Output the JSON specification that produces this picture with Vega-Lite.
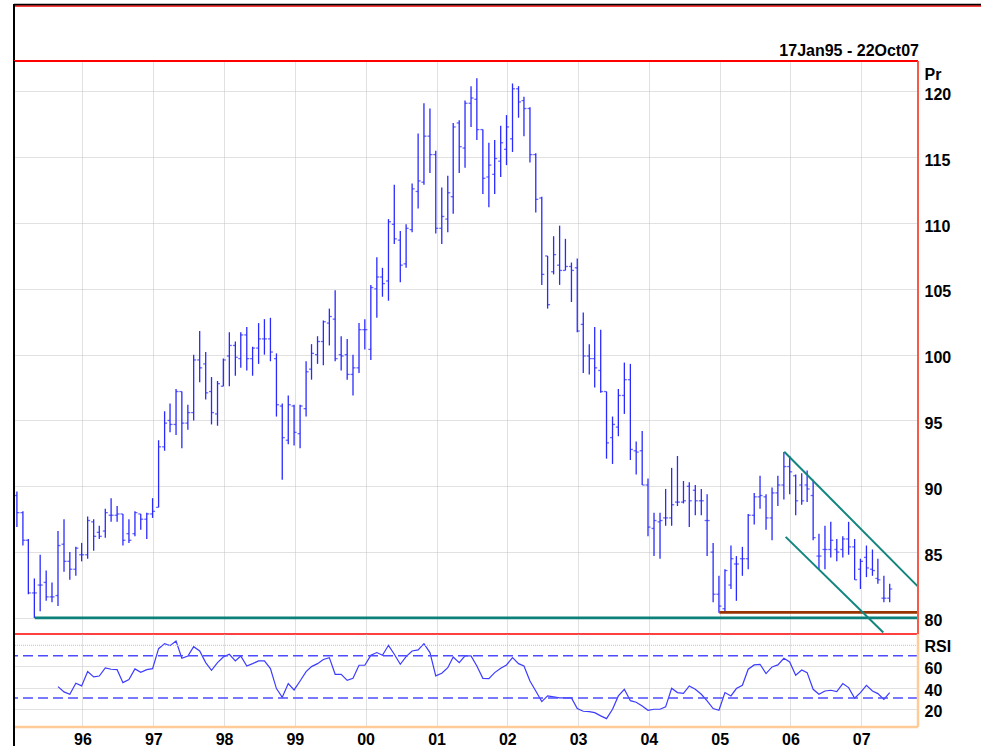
{
  "$schema": "https://vega.github.io/schema/vega-lite/v6.json",
  "background": "white",
  "padding": {"left": 12, "top": 3, "right": 0, "bottom": 0},
  "spacing": 0,
  "bounds": "flush",
  "config": {
    "view": {"stroke": null},
    "font": "Liberation Sans",
    "axis": {
      "labelFont": "Liberation Sans", "labelFontWeight": "bold", "labelFontSize": 16, "labelColor": "#000000",
      "titleFont": "Liberation Sans", "titleFontWeight": "bold", "titleFontSize": 16, "titleColor": "#000000",
      "gridColor": "#c2c2c2", "gridDash": [1, 1], "gridWidth": 1,
      "domain": false, "ticks": false, "tickSize": 0, "labelOverlap": false
    }
  },
  "datasets": {
    "lines": [
      {"k": "support", "d1": "1995-04-30", "p1": 80.0, "d2": "2007-10-21", "p2": 80.0},
      {"k": "base", "d1": "2004-12-30", "p1": 80.42, "d2": "2007-10-21", "p2": 80.42},
      {"k": "upper", "d1": "2005-11-30", "p1": 92.63, "d2": "2007-10-21", "p2": 82.38},
      {"k": "lower", "d1": "2005-12-07", "p1": 86.16, "d2": "2007-04-25", "p2": 78.89}
    ],
    "bars": [
      {"d":"1995-01-28","o":89.3,"h":89.6,"l":86.9,"c":88.0},
      {"d":"1995-02-28","o":88.0,"h":88.1,"l":85.5,"c":85.9},
      {"d":"1995-03-28","o":85.9,"h":86.0,"l":81.8,"c":81.9},
      {"d":"1995-04-28","o":81.9,"h":83.0,"l":80.0,"c":81.9},
      {"d":"1995-05-28","o":82.5,"h":84.8,"l":80.5,"c":82.5},
      {"d":"1995-06-28","o":82.7,"h":83.6,"l":81.3,"c":81.6},
      {"d":"1995-07-28","o":81.6,"h":82.7,"l":81.2,"c":81.6},
      {"d":"1995-08-28","o":81.7,"h":86.6,"l":80.9,"c":85.5,"r":40.8},
      {"d":"1995-09-28","o":85.6,"h":87.5,"l":83.5,"c":84.3,"r":35.8},
      {"d":"1995-10-28","o":84.3,"h":85.0,"l":82.9,"c":83.7,"r":33.6},
      {"d":"1995-11-28","o":83.7,"h":85.4,"l":83.2,"c":85.3,"r":44.0},
      {"d":"1995-12-28","o":84.8,"h":85.7,"l":84.3,"c":84.8,"r":41.5},
      {"d":"1996-01-28","o":84.8,"h":87.7,"l":84.5,"c":87.4,"r":55.1},
      {"d":"1996-02-28","o":87.3,"h":87.5,"l":85.1,"c":86.2,"r":50.0},
      {"d":"1996-03-28","o":86.5,"h":87.0,"l":86.0,"c":86.2,"r":50.9},
      {"d":"1996-04-28","o":86.6,"h":88.3,"l":86.1,"c":88.0,"r":58.5},
      {"d":"1996-05-28","o":87.8,"h":89.1,"l":87.3,"c":87.8,"r":57.3},
      {"d":"1996-06-28","o":87.8,"h":88.5,"l":87.3,"c":87.9,"r":56.9},
      {"d":"1996-07-28","o":87.9,"h":87.9,"l":85.5,"c":85.9,"r":44.6},
      {"d":"1996-08-28","o":86.4,"h":87.5,"l":85.7,"c":85.9,"r":47.5},
      {"d":"1996-09-28","o":86.4,"h":88.1,"l":86.2,"c":88.0,"r":57.6},
      {"d":"1996-10-28","o":87.9,"h":87.9,"l":86.7,"c":87.5,"r":54.4},
      {"d":"1996-11-28","o":87.5,"h":88.0,"l":86.0,"c":87.9,"r":56.9},
      {"d":"1996-12-28","o":87.9,"h":89.1,"l":87.6,"c":88.1,"r":57.9},
      {"d":"1997-01-28","o":88.4,"h":93.5,"l":88.4,"c":93.0,"r":76.8},
      {"d":"1997-02-28","o":93.0,"h":95.7,"l":92.7,"c":94.8,"r":81.6},
      {"d":"1997-03-28","o":95.0,"h":96.3,"l":94.1,"c":94.7,"r":79.7},
      {"d":"1997-04-28","o":94.7,"h":97.4,"l":93.9,"c":97.2,"r":84.1},
      {"d":"1997-05-28","o":97.2,"h":97.2,"l":92.9,"c":94.8,"r":67.7},
      {"d":"1997-06-28","o":94.8,"h":96.2,"l":94.3,"c":95.6,"r":69.9},
      {"d":"1997-07-28","o":95.6,"h":100.0,"l":95.0,"c":99.6,"r":78.7},
      {"d":"1997-08-28","o":99.6,"h":101.8,"l":97.9,"c":99.0,"r":74.6},
      {"d":"1997-09-28","o":99.3,"h":100.2,"l":96.6,"c":97.1,"r":63.6},
      {"d":"1997-10-28","o":97.2,"h":98.3,"l":94.7,"c":95.6,"r":56.3},
      {"d":"1997-11-28","o":95.5,"h":98.0,"l":94.6,"c":97.8,"r":63.6},
      {"d":"1997-12-28","o":97.6,"h":99.7,"l":97.6,"c":99.6,"r":68.9},
      {"d":"1998-01-28","o":99.9,"h":101.7,"l":97.6,"c":100.7,"r":71.5},
      {"d":"1998-02-28","o":100.7,"h":101.0,"l":98.4,"c":99.8,"r":65.2},
      {"d":"1998-03-28","o":99.7,"h":101.7,"l":99.0,"c":101.5,"r":69.9},
      {"d":"1998-04-28","o":101.5,"h":102.1,"l":98.8,"c":99.7,"r":60.4},
      {"d":"1998-05-28","o":99.7,"h":100.6,"l":98.4,"c":100.5,"r":62.6},
      {"d":"1998-06-28","o":100.5,"h":102.4,"l":99.3,"c":101.2,"r":65.2},
      {"d":"1998-07-28","o":101.2,"h":102.7,"l":100.0,"c":101.2,"r":65.2},
      {"d":"1998-08-28","o":101.2,"h":102.8,"l":99.5,"c":100.2,"r":57.9},
      {"d":"1998-09-28","o":99.7,"h":100.1,"l":95.3,"c":96.2,"r":39.0},
      {"d":"1998-10-28","o":96.1,"h":96.3,"l":90.5,"c":93.7,"r":30.7},
      {"d":"1998-11-28","o":93.5,"h":96.9,"l":93.2,"c":96.2,"r":43.7},
      {"d":"1998-12-28","o":96.1,"h":96.2,"l":93.1,"c":94.1,"r":37.7},
      {"d":"1999-01-28","o":94.0,"h":96.2,"l":92.9,"c":96.1,"r":46.2},
      {"d":"1999-02-28","o":95.9,"h":99.5,"l":95.3,"c":98.7,"r":55.1},
      {"d":"1999-03-28","o":98.9,"h":100.8,"l":98.1,"c":100.1,"r":59.8},
      {"d":"1999-04-28","o":100.0,"h":101.4,"l":99.3,"c":101.0,"r":62.6},
      {"d":"1999-05-28","o":101.0,"h":102.6,"l":99.2,"c":102.5,"r":66.5},
      {"d":"1999-06-28","o":102.4,"h":103.5,"l":100.7,"c":102.9,"r":68.3},
      {"d":"1999-07-28","o":102.7,"h":104.9,"l":99.5,"c":99.7,"r":52.5},
      {"d":"1999-08-28","o":100.0,"h":101.4,"l":98.8,"c":99.9,"r":52.5},
      {"d":"1999-09-28","o":100.0,"h":101.2,"l":98.1,"c":98.5,"r":46.8},
      {"d":"1999-10-28","o":98.5,"h":100.0,"l":96.9,"c":99.0,"r":48.7},
      {"d":"1999-11-28","o":99.0,"h":102.4,"l":98.6,"c":101.9,"r":61.1},
      {"d":"1999-12-28","o":101.9,"h":102.7,"l":100.4,"c":101.9,"r":61.1},
      {"d":"2000-01-28","o":100.4,"h":105.3,"l":99.6,"c":105.1,"r":70.5},
      {"d":"2000-02-28","o":105.0,"h":107.4,"l":102.8,"c":105.9,"r":73.1},
      {"d":"2000-03-28","o":105.9,"h":106.6,"l":104.4,"c":105.4,"r":70.5},
      {"d":"2000-04-28","o":105.6,"h":110.3,"l":104.1,"c":110.1,"r":80.0},
      {"d":"2000-05-28","o":109.9,"h":112.9,"l":108.4,"c":108.8,"r":71.5},
      {"d":"2000-06-28","o":108.7,"h":109.4,"l":105.5,"c":106.8,"r":62.0},
      {"d":"2000-07-28","o":106.9,"h":109.9,"l":106.6,"c":109.6,"r":69.3},
      {"d":"2000-08-28","o":109.5,"h":113.0,"l":109.3,"c":112.6,"r":74.6},
      {"d":"2000-09-28","o":112.4,"h":116.8,"l":111.1,"c":113.2,"r":75.6},
      {"d":"2000-10-28","o":113.1,"h":119.1,"l":112.9,"c":116.6,"r":81.6},
      {"d":"2000-11-28","o":116.6,"h":118.7,"l":113.8,"c":115.2,"r":73.1},
      {"d":"2000-12-28","o":115.2,"h":115.5,"l":109.2,"c":109.6,"r":51.0},
      {"d":"2001-01-28","o":109.6,"h":112.7,"l":108.4,"c":110.5,"r":53.5},
      {"d":"2001-02-28","o":110.3,"h":113.6,"l":109.3,"c":112.3,"r":58.8},
      {"d":"2001-03-28","o":112.0,"h":117.6,"l":110.7,"c":117.3,"r":68.9},
      {"d":"2001-04-28","o":117.6,"h":117.8,"l":113.8,"c":115.8,"r":63.6},
      {"d":"2001-05-28","o":115.7,"h":119.3,"l":114.2,"c":119.1,"r":69.9},
      {"d":"2001-06-28","o":119.1,"h":120.4,"l":117.3,"c":119.5,"r":69.9},
      {"d":"2001-07-28","o":119.4,"h":121.0,"l":116.3,"c":117.1,"r":60.4},
      {"d":"2001-08-28","o":117.1,"h":117.1,"l":112.2,"c":113.4,"r":48.7},
      {"d":"2001-09-28","o":113.5,"h":116.1,"l":111.2,"c":114.4,"r":48.4},
      {"d":"2001-10-28","o":113.7,"h":116.3,"l":112.2,"c":114.9,"r":54.1},
      {"d":"2001-11-28","o":114.7,"h":117.4,"l":113.5,"c":116.1,"r":58.2},
      {"d":"2001-12-28","o":115.6,"h":118.2,"l":114.4,"c":117.3,"r":61.4},
      {"d":"2002-01-28","o":116.4,"h":120.6,"l":115.4,"c":120.2,"r":68.3},
      {"d":"2002-02-28","o":120.2,"h":120.4,"l":118.0,"c":119.2,"r":62.6},
      {"d":"2002-03-28","o":119.3,"h":119.6,"l":116.6,"c":118.7,"r":60.4},
      {"d":"2002-04-28","o":118.7,"h":118.8,"l":114.6,"c":115.2,"r":46.2},
      {"d":"2002-05-28","o":115.2,"h":115.3,"l":110.8,"c":111.8,"r":36.7},
      {"d":"2002-06-28","o":111.9,"h":112.0,"l":105.3,"c":106.1,"r":26.6},
      {"d":"2002-07-28","o":107.5,"h":107.5,"l":103.5,"c":103.8,"r":32.0},
      {"d":"2002-08-28","o":106.3,"h":109.0,"l":106.1,"c":107.6,"r":31.1},
      {"d":"2002-09-28","o":106.8,"h":109.8,"l":105.3,"c":106.4,"r":30.1},
      {"d":"2002-10-28","o":106.4,"h":108.8,"l":106.4,"c":106.7,"r":30.1},
      {"d":"2002-11-28","o":106.7,"h":107.0,"l":104.0,"c":106.4,"r":30.1},
      {"d":"2002-12-28","o":106.6,"h":107.3,"l":101.7,"c":101.8,"r":20.0},
      {"d":"2003-01-28","o":102.3,"h":103.2,"l":98.6,"c":99.9,"r":17.5},
      {"d":"2003-02-28","o":99.9,"h":100.8,"l":98.5,"c":99.7,"r":17.2},
      {"d":"2003-03-28","o":99.7,"h":102.1,"l":97.5,"c":99.0,"r":16.2},
      {"d":"2003-04-28","o":98.8,"h":101.9,"l":97.1,"c":97.2,"r":13.1},
      {"d":"2003-05-28","o":97.2,"h":97.2,"l":92.1,"c":93.3,"r":10.5},
      {"d":"2003-06-28","o":93.7,"h":95.3,"l":91.7,"c":94.7,"r":19.4},
      {"d":"2003-07-28","o":94.5,"h":97.4,"l":93.8,"c":96.9,"r":32.0},
      {"d":"2003-08-28","o":96.9,"h":99.4,"l":95.5,"c":98.1,"r":38.3},
      {"d":"2003-09-28","o":98.1,"h":99.3,"l":92.0,"c":92.8,"r":27.5},
      {"d":"2003-10-28","o":92.7,"h":93.4,"l":90.9,"c":92.6,"r":26.0},
      {"d":"2003-11-28","o":92.7,"h":94.2,"l":90.1,"c":90.1,"r":22.5},
      {"d":"2003-12-28","o":90.1,"h":90.6,"l":86.2,"c":86.9,"r":18.4},
      {"d":"2004-01-28","o":86.8,"h":88.0,"l":84.7,"c":87.4,"r":19.4},
      {"d":"2004-02-28","o":87.3,"h":88.0,"l":84.5,"c":87.4,"r":19.4},
      {"d":"2004-03-28","o":87.6,"h":89.8,"l":87.0,"c":87.6,"r":21.6},
      {"d":"2004-04-28","o":87.6,"h":91.4,"l":87.0,"c":88.6,"r":39.3},
      {"d":"2004-05-28","o":88.8,"h":92.3,"l":88.5,"c":88.8,"r":35.2},
      {"d":"2004-06-28","o":88.8,"h":90.4,"l":88.7,"c":88.9,"r":34.5},
      {"d":"2004-07-28","o":90.0,"h":90.3,"l":86.9,"c":88.9,"r":41.5},
      {"d":"2004-08-28","o":89.7,"h":90.1,"l":87.8,"c":88.9,"r":38.3},
      {"d":"2004-09-28","o":88.9,"h":89.8,"l":87.8,"c":88.9,"r":33.6},
      {"d":"2004-10-28","o":87.4,"h":89.4,"l":84.7,"c":87.4,"r":27.3},
      {"d":"2004-11-28","o":85.0,"h":85.7,"l":81.2,"c":81.8,"r":20.0},
      {"d":"2004-12-28","o":81.8,"h":83.2,"l":80.4,"c":80.9,"r":18.4},
      {"d":"2005-01-28","o":80.7,"h":83.7,"l":80.5,"c":83.6,"r":35.2},
      {"d":"2005-02-28","o":82.5,"h":85.5,"l":82.2,"c":84.5,"r":32.0},
      {"d":"2005-03-28","o":84.1,"h":84.7,"l":81.3,"c":84.1,"r":39.0},
      {"d":"2005-04-28","o":84.5,"h":85.4,"l":83.2,"c":84.5,"r":42.1},
      {"d":"2005-05-28","o":84.5,"h":87.9,"l":83.7,"c":87.8,"r":57.3},
      {"d":"2005-06-28","o":87.8,"h":89.5,"l":87.1,"c":89.2,"r":61.4},
      {"d":"2005-07-28","o":89.2,"h":90.8,"l":88.3,"c":89.3,"r":62.0},
      {"d":"2005-08-28","o":89.2,"h":89.4,"l":86.7,"c":87.6,"r":53.2},
      {"d":"2005-09-28","o":87.6,"h":89.9,"l":85.9,"c":89.5,"r":59.5},
      {"d":"2005-10-28","o":89.5,"h":90.8,"l":88.5,"c":90.1,"r":61.4},
      {"d":"2005-11-28","o":90.1,"h":92.6,"l":89.0,"c":91.5,"r":67.7},
      {"d":"2005-12-28","o":91.5,"h":92.3,"l":89.4,"c":91.1,"r":64.2},
      {"d":"2006-01-28","o":90.8,"h":90.9,"l":87.8,"c":88.9,"r":51.6},
      {"d":"2006-02-28","o":90.1,"h":91.0,"l":88.6,"c":88.9,"r":56.6},
      {"d":"2006-03-28","o":90.1,"h":91.2,"l":88.8,"c":89.8,"r":54.1},
      {"d":"2006-04-28","o":89.3,"h":90.5,"l":85.9,"c":86.1,"r":38.3},
      {"d":"2006-05-28","o":84.7,"h":86.4,"l":83.7,"c":84.7,"r":33.6},
      {"d":"2006-06-28","o":85.2,"h":87.0,"l":83.7,"c":85.2,"r":36.7},
      {"d":"2006-07-28","o":85.2,"h":87.3,"l":84.6,"c":85.9,"r":37.4},
      {"d":"2006-08-28","o":85.2,"h":86.0,"l":84.3,"c":85.0,"r":36.1},
      {"d":"2006-09-28","o":85.2,"h":86.2,"l":84.6,"c":86.0,"r":43.7},
      {"d":"2006-10-28","o":86.0,"h":87.3,"l":84.8,"c":85.4,"r":39.9},
      {"d":"2006-11-28","o":85.4,"h":86.0,"l":82.9,"c":82.9,"r":29.8},
      {"d":"2006-12-28","o":83.7,"h":84.5,"l":82.2,"c":84.3,"r":35.2},
      {"d":"2007-01-28","o":84.6,"h":85.5,"l":83.1,"c":83.8,"r":42.1},
      {"d":"2007-02-28","o":83.7,"h":85.2,"l":83.2,"c":83.6,"r":36.7},
      {"d":"2007-03-28","o":83.0,"h":84.5,"l":82.6,"c":82.9,"r":34.2},
      {"d":"2007-04-28","o":81.5,"h":83.2,"l":81.2,"c":81.5,"r":28.8},
      {"d":"2007-05-28","o":81.5,"h":82.6,"l":81.2,"c":82.2,"r":35.2}
    ]
  },
  "vconcat": [
    {
      "width": 904,
      "height": 57,
      "data": {"values": [{"label": "17Jan95 - 22Oct07"}]},
      "layer": [
        {
          "mark": {"type": "rule", "color": "#000000", "strokeWidth": 2},
          "encoding": {
            "x": {"datum": {"year": 1995, "month": 1, "date": 13, "utc": true}, "type": "temporal",
                  "scale": {"type": "utc", "domain": [{"year": 1995, "month": 1, "date": 13, "utc": true}, {"year": 2007, "month": 10, "date": 21, "utc": true}]},
                  "axis": null},
            "x2": {"datum": {"year": 2008, "month": 10, "date": 1, "utc": true}},
            "y": {"datum": 56.2, "type": "quantitative", "scale": {"domain": [0, 57], "nice": false, "zero": false}, "axis": null}
          }
        },
        {
          "mark": {"type": "rule", "color": "#ff0000", "strokeWidth": 1.2},
          "encoding": {
            "x": {"datum": {"year": 1995, "month": 1, "date": 13, "utc": true}, "type": "temporal"},
            "x2": {"datum": {"year": 2008, "month": 10, "date": 1, "utc": true}},
            "y": {"datum": 54.8, "type": "quantitative"}
          }
        },
        {
          "mark": {"type": "rule", "color": "#000000", "strokeWidth": 2},
          "encoding": {
            "x": {"datum": {"year": 1995, "month": 1, "date": 13, "utc": true}, "type": "temporal"}
          }
        },
        {
          "mark": {"type": "text", "align": "right", "baseline": "alphabetic", "font": "Liberation Sans", "fontWeight": "bold", "fontSize": 16, "dx": 1, "color": "#000000"},
          "encoding": {
            "x": {"datum": {"year": 2007, "month": 10, "date": 21, "utc": true}, "type": "temporal"},
            "y": {"datum": 5.3, "type": "quantitative"},
            "text": {"field": "label", "type": "nominal"}
          }
        }
      ]
    },
    {
      "width": 904,
      "height": 573,
      "layer": [
        {
          "data": {"name": "bars"},
          "mark": {"type": "rule", "color": "#2a2aff", "strokeWidth": 1.3},
          "encoding": {
            "x": {"field": "d", "type": "temporal",
                  "scale": {"type": "utc", "domain": [{"year": 1995, "month": 1, "date": 13, "utc": true}, {"year": 2007, "month": 10, "date": 21, "utc": true}]},
                  "axis": {"grid": true, "labels": false, "ticks": false, "domain": false, "title": null, "tickCount": {"interval": "year", "step": 1}, "minExtent": 0, "maxExtent": 0}},
            "y": {"field": "l", "type": "quantitative",
                  "scale": {"domain": [78.78, 122.31], "nice": false, "zero": false},
                  "axis": {"orient": "right", "values": [80, 85, 90, 95, 100, 105, 110, 115, 120], "grid": true, "labelOverlap": false,
                           "title": "Pr", "titleAngle": 0, "titleAlign": "left", "titleBaseline": "alphabetic", "titleX": 6, "titleY": 18.7,
                           "labelPadding": 6, "labelBaseline": "middle", "labelOffset": 3, "labelAlign": "left"}},
            "y2": {"field": "h"}
          }
        },
        {
          "data": {"name": "bars"},
          "mark": {"type": "tick", "orient": "horizontal", "color": "#2a2aff", "size": 2.5, "thickness": 1.3, "xOffset": -1.25},
          "encoding": {
            "x": {"field": "d", "type": "temporal"},
            "y": {"field": "o", "type": "quantitative"}
          }
        },
        {
          "data": {"name": "bars"},
          "mark": {"type": "tick", "orient": "horizontal", "color": "#2a2aff", "size": 2.5, "thickness": 1.3, "xOffset": 1.25},
          "encoding": {
            "x": {"field": "d", "type": "temporal"},
            "y": {"field": "c", "type": "quantitative"}
          }
        },
        {
          "data": {"name": "lines"},
          "mark": {"type": "rule"},
          "encoding": {
            "x": {"field": "d1", "type": "temporal"},
            "x2": {"field": "d2"},
            "y": {"field": "p1", "type": "quantitative"},
            "y2": {"field": "p2"},
            "color": {"field": "k", "type": "nominal", "legend": null,
                      "scale": {"domain": ["support", "base", "upper", "lower"], "range": ["#0c807b", "#993300", "#12857e", "#12857e"]}},
            "strokeWidth": {"field": "k", "type": "nominal", "legend": null,
                            "scale": {"type": "ordinal", "domain": ["support", "base", "upper", "lower"], "range": [2.8, 2.8, 2, 2]}}
          }
        },
        {
          "data": {"values": [{}]},
          "mark": {"type": "rule", "color": "#ff0000", "strokeWidth": 1.8},
          "encoding": {"y": {"datum": 122.31, "type": "quantitative"}}
        },
        {
          "data": {"values": [{}]},
          "mark": {"type": "rule", "color": "#ff0000", "strokeWidth": 1.5},
          "encoding": {"y": {"datum": 78.78, "type": "quantitative"}}
        },
        {
          "data": {"values": [{}]},
          "mark": {"type": "rule", "color": "#f85a48", "strokeWidth": 2},
          "encoding": {"x": {"datum": {"year": 2007, "month": 10, "date": 21, "utc": true}, "type": "temporal"}}
        },
        {
          "data": {"values": [{}]},
          "mark": {"type": "rule", "color": "#000000", "strokeWidth": 2},
          "encoding": {"x": {"datum": {"year": 1995, "month": 1, "date": 13, "utc": true}, "type": "temporal"}}
        }
      ]
    },
    {
      "width": 904,
      "height": 93,
      "layer": [
        {
          "data": {"name": "bars"},
          "mark": {"type": "line", "color": "#3c3cff", "strokeWidth": 1.2},
          "encoding": {
            "x": {"field": "d", "type": "temporal",
                  "scale": {"type": "utc", "domain": [{"year": 1995, "month": 1, "date": 13, "utc": true}, {"year": 2007, "month": 10, "date": 21, "utc": true}]},
                  "axis": {"orient": "bottom", "grid": true, "labelExpr": "utcFormat(datum.value, '%y')", "tickCount": {"interval": "year", "step": 1},
                           "labelPadding": 4.5, "labelBaseline": "top", "labelFlush": false, "labelOverlap": false, "title": null}},
            "y": {"field": "r", "type": "quantitative",
                  "scale": {"domain": [2.56, 90.71], "nice": false, "zero": false},
                  "axis": {"orient": "right", "values": [20, 40, 60], "grid": true, "labelOverlap": false,
                           "title": "RSI", "titleAngle": 0, "titleAlign": "left", "titleBaseline": "alphabetic", "titleX": 6, "titleY": 17.6,
                           "labelPadding": 6, "labelBaseline": "middle", "labelOffset": 2.5, "labelAlign": "left"}}
          }
        },
        {
          "data": {"values": [{"lvl": 80}]},
          "mark": {"type": "rule", "color": "#c2c2c2", "strokeWidth": 1, "strokeDash": [1, 1]},
          "encoding": {"y": {"field": "lvl", "type": "quantitative"}}
        },
        {
          "data": {"values": [{"lvl": 70}, {"lvl": 30}]},
          "mark": {"type": "rule", "color": "#4d4dff", "strokeWidth": 1.5, "strokeDash": [10, 5]},
          "encoding": {"y": {"field": "lvl", "type": "quantitative"}}
        },
        {
          "data": {"values": [{}]},
          "mark": {"type": "rule", "color": "#ffcc99", "strokeWidth": 2.5},
          "encoding": {"x": {"datum": {"year": 2007, "month": 10, "date": 21, "utc": true}, "type": "temporal"}}
        },
        {
          "data": {"values": [{}]},
          "mark": {"type": "rule", "color": "#ffcc99", "strokeWidth": 2.5},
          "encoding": {"y": {"datum": 2.56, "type": "quantitative"}}
        },
        {
          "data": {"values": [{}]},
          "mark": {"type": "rule", "color": "#000000", "strokeWidth": 2},
          "encoding": {
            "x": {"datum": {"year": 1995, "month": 1, "date": 13, "utc": true}, "type": "temporal"},
            "y": {"datum": 90.71, "type": "quantitative"},
            "y2": {"datum": -16}
          }
        }
      ]
    }
  ]
}
